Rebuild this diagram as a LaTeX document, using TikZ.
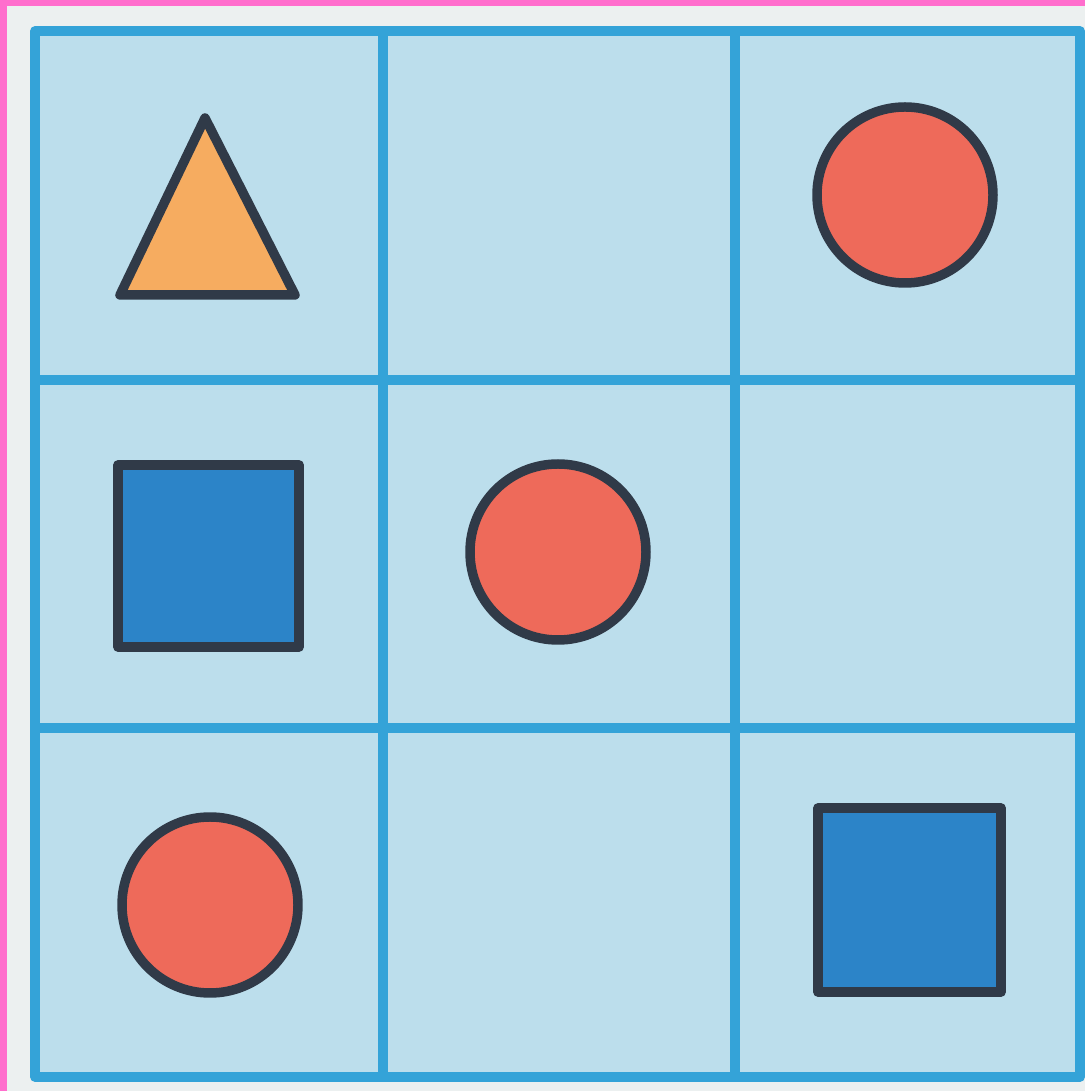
\documentclass[tikz,border=0pt]{standalone}
\usepackage{xcolor}
\usepackage{tikz}
\definecolor{gridblue}{RGB}{52,163,216}
\definecolor{cellblue}{RGB}{188,222,236}
\definecolor{paperwhite}{RGB}{236,240,240}
\definecolor{edgepink}{RGB}{255,110,205}
\definecolor{shapeorange}{RGB}{246,172,96}
\definecolor{shapered}{RGB}{238,106,90}
\definecolor{shapeblue}{RGB}{44,132,200}
\definecolor{shapeline}{RGB}{48,58,72}

\begin{document}
\begin{tikzpicture}[line join=round]
  % paper and border
  \fill[paperwhite] (0,0) rectangle (10.85,10.91);
  \fill[edgepink] (0,0) rectangle (0.07,10.91);
  \fill[edgepink] (0,10.85) rectangle (10.85,10.91);
  \useasboundingbox (0,0) rectangle (10.85,10.91);
  % grid
  \fill[cellblue] (0.35,0.14) rectangle (10.80,10.60);
  \draw[gridblue, line width=2.7pt] (0.35,0.14) rectangle (10.80,10.60);
  \draw[gridblue, line width=2.7pt] (3.83,0.14) -- (3.83,10.60);
  \draw[gridblue, line width=2.7pt] (7.35,0.14) -- (7.35,10.60);
  \draw[gridblue, line width=2.7pt] (0.35,7.11) -- (10.80,7.11);
  \draw[gridblue, line width=2.7pt] (0.35,3.63) -- (10.80,3.63);
  % top row
  \draw[shapeline, fill=shapeorange, line width=2.7pt] (2.05,9.73) -- (1.20,7.96) -- (2.95,7.96) -- cycle;
  \draw[shapeline, fill=shapered, line width=2.7pt] (9.05,8.96) circle (0.88);
  % middle row
  \draw[shapeline, fill=shapeblue, line width=2.7pt] (1.18,6.26) rectangle (2.99,4.44);
  \draw[shapeline, fill=shapered, line width=2.7pt] (5.58,5.39) circle (0.88);
  % bottom row
  \draw[shapeline, fill=shapered, line width=2.7pt] (2.10,1.86) circle (0.88);
  \draw[shapeline, fill=shapeblue, line width=2.7pt] (8.18,2.83) rectangle (10.01,0.99);
\end{tikzpicture}
\end{document}
